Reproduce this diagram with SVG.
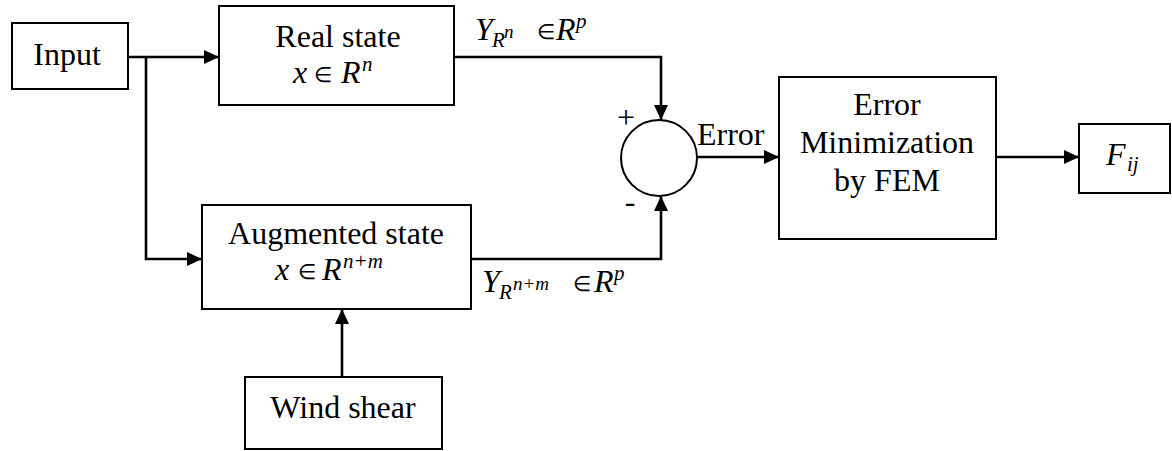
<svg xmlns="http://www.w3.org/2000/svg" width="1172" height="451" viewBox="0 0 1172 451">
<style>
.box{fill:#fff;stroke:#000;stroke-width:2}
.t{font-family:"Liberation Serif","Times New Roman",serif;font-size:32px;fill:#000}
.c{text-anchor:middle}
.i{font-style:italic}
.sub{font-size:21px}
.sub2{font-size:19px}
.el{font-size:21px}
.conn{fill:none;stroke:#000;stroke-width:2.6}
</style>
<defs>
<marker id="arr" viewBox="0 0 15 14" refX="15" refY="7" markerWidth="15" markerHeight="14" markerUnits="userSpaceOnUse" orient="auto">
<path d="M0,0 L15,7 L0,14 z" fill="#000"/>
</marker>
</defs>
<rect width="1172" height="451" fill="#fff"/>
<g id="connectors">
<path class="conn" d="M126,57 H219" marker-end="url(#arr)"/>
<path class="conn" d="M146,57 V259 H202" marker-end="url(#arr)"/>
<path class="conn" d="M454,57 H661 V120" marker-end="url(#arr)"/>
<path class="conn" d="M471,259 H661 V196" marker-end="url(#arr)"/>
<path class="conn" d="M697,157 H779" marker-end="url(#arr)"/>
<path class="conn" d="M996,157 H1079" marker-end="url(#arr)"/>
<path class="conn" d="M342,377 V309" marker-end="url(#arr)"/>
</g>
<g id="input">
<rect class="box" x="12" y="23" width="116" height="66"/>
<text class="t c" x="67" y="65">Input</text>
</g>
<g id="real-state">
<rect class="box" x="219" y="6" width="235" height="99"/>
<text class="t c" x="338" y="47">Real state</text>
<text class="t"><tspan class="i" x="293" y="83">x</tspan><tspan class="el" x="314" y="82">∈</tspan><tspan class="i" x="341" y="83">R</tspan><tspan class="i sub" x="362" y="71">n</tspan></text>
</g>
<g id="augmented-state">
<rect class="box" x="202" y="205" width="269" height="104"/>
<text class="t c" x="336" y="244">Augmented state</text>
<text class="t"><tspan class="i" x="275" y="280">x</tspan><tspan class="el" x="298" y="279">∈</tspan><tspan class="i" x="322" y="280">R</tspan><tspan class="i sub" x="343" y="268">n+m</tspan></text>
</g>
<g id="wind-shear">
<rect class="box" x="245" y="377" width="197" height="72"/>
<text class="t c" x="343" y="418">Wind shear</text>
</g>
<g id="sum">
<circle cx="659" cy="158" r="38" fill="#fff" stroke="#000" stroke-width="2"/>
<text class="t c" x="626" y="128" font-size="22">+</text>
<text class="t c" x="630" y="212" font-size="22">-</text>
</g>
<g id="error-minimization">
<rect class="box" x="779" y="77" width="217" height="162"/>
<text class="t c" x="887" y="115">Error</text>
<text class="t c" x="887" y="153">Minimization</text>
<text class="t c" x="887" y="191">by FEM</text>
</g>
<g id="fij">
<rect class="box" x="1079" y="124" width="91" height="69"/>
<text class="t"><tspan class="i" x="1106" y="165">F</tspan><tspan class="i sub" x="1127" y="171">ij</tspan></text>
</g>
<g id="labels">
<text class="t"><tspan class="i" x="475" y="40">Y</tspan><tspan class="i sub" x="492" y="47">R</tspan><tspan class="i sub2" x="504" y="38">n</tspan><tspan class="el" x="537" y="39">∈</tspan><tspan class="i" x="556" y="40">R</tspan><tspan class="i sub" x="576" y="28">p</tspan></text>
<text class="t"><tspan class="i" x="482" y="292">Y</tspan><tspan class="i sub" x="499" y="299">R</tspan><tspan class="i sub2" x="513" y="290">n+m</tspan><tspan class="el" x="573" y="291">∈</tspan><tspan class="i" x="594" y="292">R</tspan><tspan class="i sub" x="614" y="280">p</tspan></text>
<text class="t" x="697" y="145">Error</text>
</g>
</svg>
